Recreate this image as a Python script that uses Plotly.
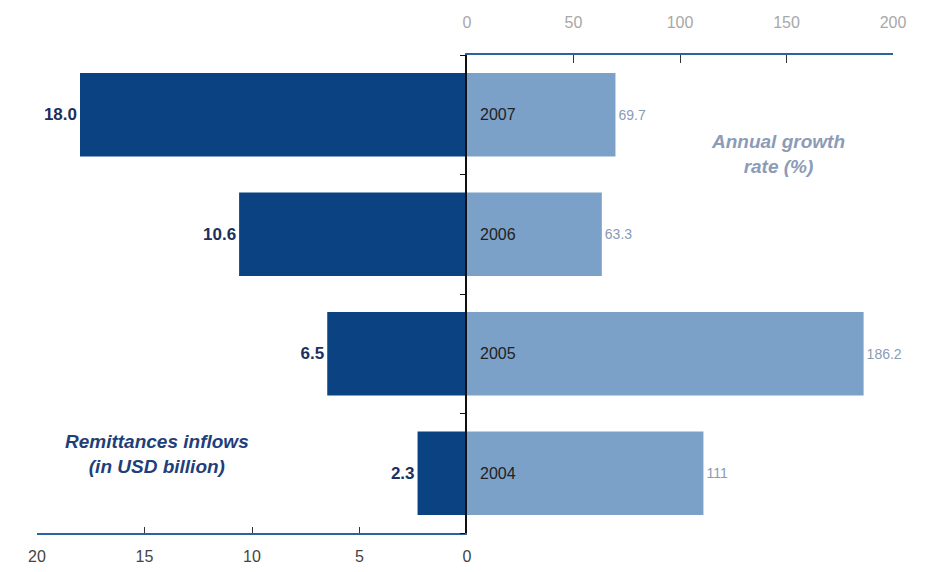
import plotly.graph_objects as go

# Data
years = ['2004', '2005', '2006', '2007']
remittances = [2.3, 6.5, 10.6, 18.0]        # USD billion (left)
growth_rate = [111, 186.2, 63.3, 69.7]      # annual growth, % (right)

remit_labels = ['2.3', '6.5', '10.6', '18.0']
growth_labels = ['111', '186.2', '63.3', '69.7']

dark_blue = '#0a4282'
light_blue = '#7ca1c9'
font_family = 'Liberation Sans, Arial, sans-serif'

split = 430 / 856  # where the two half-axes meet

fig = go.Figure()

# Left half: remittances inflows, drawn on a reversed axis
fig.add_trace(go.Bar(
    x=remittances, y=years, orientation='h',
    xaxis='x', yaxis='y',
    marker=dict(color=dark_blue, line=dict(width=0)),
    width=0.70,
    text=remit_labels, textposition='outside',
    textfont=dict(family=font_family, size=17, color='#1c2f5e'),
    texttemplate='<b>%{text}</b>',
    cliponaxis=False,
    hoverinfo='skip',
))

# Right half: annual growth rate
fig.add_trace(go.Bar(
    x=growth_rate, y=years, orientation='h',
    xaxis='x2', yaxis='y',
    marker=dict(color=light_blue, line=dict(width=0)),
    width=0.70,
    text=growth_labels, textposition='outside',
    textfont=dict(family=font_family, size=14, color='#8a9ab5'),
    cliponaxis=False,
    hoverinfo='skip',
))

# Year labels sitting at the start of each light bar
annotations = []
for i, yr in enumerate(years):
    annotations.append(dict(
        x=0, y=i, xref='x2', yref='y',
        text=yr, showarrow=False,
        xanchor='left', xshift=11,
        font=dict(family=font_family, size=16, color='#222222'),
    ))

# Series captions
annotations.append(dict(
    x=146, y=2.67, xref='x2', yref='y',
    text='<b><i>Annual growth<br>rate (%)</i></b>', showarrow=False,
    font=dict(family=font_family, size=19, color='#8b9bb8'),
    align='center',
))
annotations.append(dict(
    x=14.4, y=0.16, xref='x', yref='y',
    text='<b><i>Remittances inflows<br>(in USD billion)</i></b>', showarrow=False,
    font=dict(family=font_family, size=19, color='#1f3f7a'),
    align='center',
))

fig.update_layout(
    width=930, height=572,
    margin=dict(l=29, r=45, t=47, b=47),
    plot_bgcolor='white', paper_bgcolor='white',
    showlegend=False,
    bargap=0.3,
    font=dict(family=font_family),
    annotations=annotations,
    xaxis=dict(
        domain=[0, split], range=[20, 0], anchor='y', side='bottom',
        tickvals=[20, 15, 10, 5, 0],
        showgrid=False, zeroline=False, automargin=False,
        showline=True, linecolor='#2a64a0', linewidth=2,
        ticks='inside', ticklen=6, tickcolor='#333333',
        ticklabelstandoff=8,
        tickfont=dict(size=16, color='#444444'),
    ),
    xaxis2=dict(
        domain=[split, 1], range=[0, 200], anchor='y', side='top',
        tickvals=[0, 50, 100, 150, 200],
        showgrid=False, zeroline=False, automargin=False,
        showline=True, linecolor='#2a64a0', linewidth=2,
        ticks='inside', ticklen=8, tickcolor='#333333',
        ticklabelstandoff=19,
        tickfont=dict(size=16, color='#a8a8a8'),
    ),
    yaxis=dict(
        anchor='x2', type='category',
        categoryorder='array', categoryarray=years,
        range=[-0.5, 3.5], automargin=False,
        showticklabels=False, showgrid=False, zeroline=False,
        showline=True, linecolor='#111111', linewidth=2,
        ticks='outside', tickson='boundaries', ticklen=5, tickcolor='#111111',
    ),
)

fig.write_html('out.html')
